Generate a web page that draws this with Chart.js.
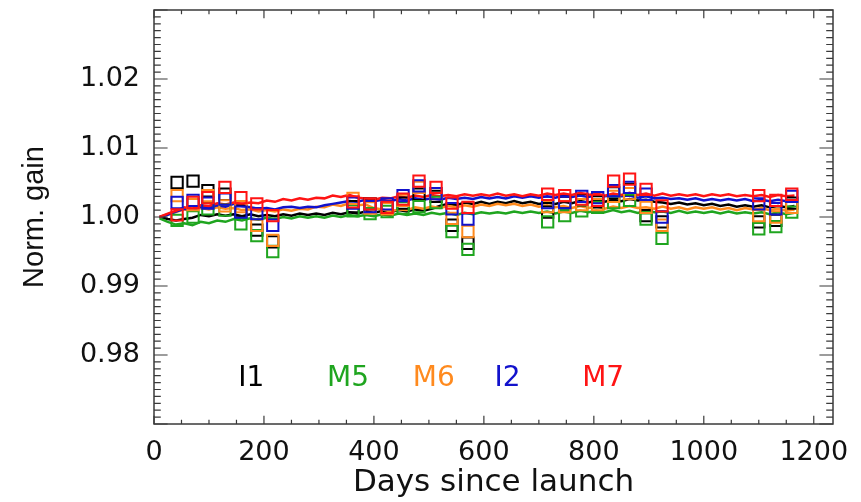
<!DOCTYPE html>
<html>
<head>
<meta charset="utf-8">
<script src="https://cdn.jsdelivr.net/npm/chart.js@4"></script>
<style>
  html, body { margin: 0; padding: 0; background: #ffffff; }
  #wrap { width: 861px; height: 502px; }
</style>
</head>
<body>
<div id="wrap"><canvas id="gain" width="861" height="502"></canvas></div>
<script>
// Band names and colours
const bands = ['I1', 'M5', 'M6', 'I2', 'M7'];
const bandColors = ['#000000', '#1fa51f', '#ff8a1e', '#1212cc', '#ff1414'];

// Trend sampling days (days since launch)
const trendDays = [10, 25, 40, 55, 70, 85, 100, 115, 130, 145,
  160, 175, 190, 205, 220, 235, 250, 265, 280, 295,
  310, 325, 340, 355, 370, 385, 400, 415, 430, 445,
  460, 475, 490, 505, 520, 535, 550, 565, 580, 595,
  610, 625, 640, 655, 670, 685, 700, 715, 730, 745,
  760, 775, 790, 805, 820, 835, 850, 865, 880, 895,
  910, 925, 940, 955, 970, 985, 1000, 1015, 1030, 1045,
  1060, 1075, 1090, 1105, 1120, 1135, 1150, 1165];

// Normalised gain trend per band
const trendI1 = [1.0000, 0.9997, 0.9995, 0.9997, 0.9999, 1.0003, 1.0001, 1.0004, 1.0002, 1.0004,
  1.0001, 1.0004, 1.0001, 1.0003, 1.0001, 1.0004, 1.0002, 1.0005, 1.0003, 1.0005,
  1.0003, 1.0006, 1.0004, 1.0007, 1.0005, 1.0008, 1.0006, 1.0009, 1.0007, 1.0010,
  1.0008, 1.0011, 1.0009, 1.0012, 1.0016, 1.0019, 1.0017, 1.0021, 1.0019, 1.0022,
  1.0019, 1.0022, 1.0020, 1.0023, 1.0020, 1.0022, 1.0019, 1.0021, 1.0019, 1.0022,
  1.0020, 1.0023, 1.0021, 1.0024, 1.0022, 1.0025, 1.0023, 1.0026, 1.0024, 1.0025,
  1.0022, 1.0021, 1.0019, 1.0021, 1.0018, 1.0020, 1.0017, 1.0019, 1.0016, 1.0018,
  1.0015, 1.0017, 1.0015, 1.0017, 1.0014, 1.0016, 1.0014, 1.0016];
const trendM5 = [0.9998, 0.9993, 0.9989, 0.9991, 0.9988, 0.9993, 0.9991, 0.9995, 0.9993, 0.9997,
  0.9995, 0.9998, 0.9996, 0.9999, 0.9997, 1.0000, 0.9998, 1.0001, 0.9999, 1.0001,
  0.9999, 1.0002, 1.0000, 1.0003, 1.0001, 1.0003, 1.0001, 1.0004, 1.0002, 1.0005,
  1.0003, 1.0005, 1.0003, 1.0006, 1.0004, 1.0006, 1.0003, 1.0006, 1.0004, 1.0007,
  1.0005, 1.0007, 1.0005, 1.0008, 1.0006, 1.0008, 1.0006, 1.0008, 1.0005, 1.0008,
  1.0006, 1.0009, 1.0007, 1.0009, 1.0007, 1.0010, 1.0007, 1.0009, 1.0006, 1.0009,
  1.0007, 1.0008, 1.0006, 1.0009, 1.0006, 1.0008, 1.0006, 1.0008, 1.0005, 1.0008,
  1.0005, 1.0007, 1.0005, 1.0007, 1.0004, 1.0007, 1.0004, 1.0006];
const trendM6 = [1.0000, 1.0004, 1.0007, 1.0011, 1.0009, 1.0013, 1.0011, 1.0014, 1.0012, 1.0013,
  1.0010, 1.0011, 1.0008, 1.0010, 1.0008, 1.0011, 1.0009, 1.0012, 1.0011, 1.0015,
  1.0014, 1.0018, 1.0016, 1.0020, 1.0017, 1.0018, 1.0013, 1.0011, 1.0008, 1.0011,
  1.0010, 1.0014, 1.0012, 1.0015, 1.0013, 1.0016, 1.0014, 1.0017, 1.0015, 1.0018,
  1.0016, 1.0019, 1.0017, 1.0019, 1.0016, 1.0018, 1.0015, 1.0017, 1.0014, 1.0016,
  1.0013, 1.0016, 1.0013, 1.0015, 1.0012, 1.0015, 1.0013, 1.0016, 1.0013, 1.0014,
  1.0012, 1.0015, 1.0012, 1.0014, 1.0011, 1.0014, 1.0012, 1.0014, 1.0011, 1.0013,
  1.0010, 1.0013, 1.0011, 1.0013, 1.0010, 1.0012, 1.0009, 1.0011];
const trendI2 = [1.0000, 1.0003, 1.0008, 1.0012, 1.0010, 1.0015, 1.0013, 1.0017, 1.0015, 1.0019,
  1.0016, 1.0014, 1.0012, 1.0013, 1.0011, 1.0014, 1.0015, 1.0013, 1.0015, 1.0014,
  1.0017, 1.0019, 1.0021, 1.0023, 1.0022, 1.0025, 1.0023, 1.0025, 1.0023, 1.0026,
  1.0024, 1.0027, 1.0025, 1.0027, 1.0025, 1.0028, 1.0026, 1.0028, 1.0026, 1.0029,
  1.0027, 1.0029, 1.0027, 1.0030, 1.0028, 1.0030, 1.0028, 1.0030, 1.0028, 1.0031,
  1.0029, 1.0031, 1.0029, 1.0032, 1.0030, 1.0032, 1.0030, 1.0031, 1.0028, 1.0030,
  1.0027, 1.0028, 1.0026, 1.0027, 1.0025, 1.0027, 1.0024, 1.0026, 1.0024, 1.0026,
  1.0024, 1.0026, 1.0023, 1.0025, 1.0023, 1.0025, 1.0023, 1.0024];
const trendM7 = [1.0000, 1.0005, 1.0009, 1.0014, 1.0012, 1.0017, 1.0016, 1.0020, 1.0018, 1.0021,
  1.0019, 1.0021, 1.0020, 1.0024, 1.0022, 1.0026, 1.0024, 1.0027, 1.0025, 1.0028,
  1.0027, 1.0031, 1.0029, 1.0032, 1.0028, 1.0027, 1.0025, 1.0028, 1.0027, 1.0030,
  1.0028, 1.0031, 1.0029, 1.0032, 1.0030, 1.0032, 1.0030, 1.0033, 1.0031, 1.0033,
  1.0031, 1.0034, 1.0031, 1.0033, 1.0030, 1.0033, 1.0031, 1.0034, 1.0032, 1.0034,
  1.0032, 1.0035, 1.0032, 1.0034, 1.0031, 1.0034, 1.0032, 1.0035, 1.0032, 1.0034,
  1.0031, 1.0034, 1.0031, 1.0033, 1.0031, 1.0033, 1.0030, 1.0033, 1.0031, 1.0033,
  1.0030, 1.0032, 1.0030, 1.0032, 1.0029, 1.0032, 1.0030, 1.0031];

// Lunar calibration days (days since launch)
const lunarDays = [42, 71, 98, 129, 158, 187, 216, 362, 393, 424, 453, 482, 513, 542, 571,
  716, 747, 778, 807, 836, 865, 895, 924, 1100, 1131, 1160];

// Normalised gain from each lunar calibration
const lunarI1 = [1.0050, 1.0052, 1.0038, 1.0033, 1.0008, 0.9981, 0.9964, 1.0015, 1.0019, 1.0012, 1.0020, 1.0033, 1.0030, 0.9988, 0.9962,
  1.0007, 1.0021, 1.0025, 1.0022, 1.0035, 1.0040, 1.0002, 0.9993, 0.9993, 0.9995, 1.0020];
const lunarM5 = [0.9995, 1.0000, 1.0012, 1.0010, 0.9990, 0.9973, 0.9950, 1.0009, 1.0005, 1.0008, 1.0013, 1.0015, 1.0021, 0.9979, 0.9953,
  0.9993, 1.0002, 1.0009, 1.0014, 1.0021, 1.0024, 0.9997, 0.9969, 0.9983, 0.9986, 1.0007];
const lunarM6 = [1.0031, 1.0018, 1.0031, 1.0016, 1.0015, 0.9988, 0.9966, 1.0027, 1.0013, 1.0012, 1.0024, 1.0043, 1.0034, 0.9998, 0.9979,
  1.0015, 1.0015, 1.0018, 1.0018, 1.0030, 1.0034, 1.0014, 0.9988, 1.0002, 1.0000, 1.0014];
const lunarI2 = [1.0021, 1.0024, 1.0020, 1.0026, 1.0007, 1.0005, 0.9988, 1.0020, 1.0015, 1.0019, 1.0031, 1.0045, 1.0034, 1.0012, 0.9997,
  1.0021, 1.0021, 1.0030, 1.0028, 1.0038, 1.0043, 1.0033, 1.0000, 1.0019, 1.0012, 1.0030];
const lunarM7 = [1.0003, 1.0021, 1.0028, 1.0043, 1.0028, 1.0019, 1.0002, 1.0022, 1.0019, 1.0014, 1.0026, 1.0052, 1.0043, 1.0020, 1.0014,
  1.0033, 1.0031, 1.0026, 1.0024, 1.0052, 1.0055, 1.0040, 1.0016, 1.0031, 1.0024, 1.0033];

// Axis ticks
const xTickValues = [0, 200, 400, 600, 800, 1000, 1200];
const yTickValues = [0.98, 0.99, 1.00, 1.01, 1.02];
const yTickLabels = ['0.98', '0.99', '1.00', '1.01', '1.02'];

const trends = [trendI1, trendM5, trendM6, trendI2, trendM7];
const lunars = [lunarI1, lunarM5, lunarM6, lunarI2, lunarM7];

// In-plot band labels: day position of each label and the gain level they sit on
const labelDays = [177, 353, 509, 643, 817];
const labelLevel = 0.97656;

const FONT = 'DejaVu Sans';
const AXIS_COLOR = '#3a3a3a';

const datasets = [];
bands.forEach((b, i) => {
  datasets.push({
    label: b + ' lunar',
    type: 'scatter',
    data: lunarDays.map((d, k) => ({ x: d, y: lunars[i][k] })),
    showLine: false,
    pointStyle: 'rect',
    pointRadius: 8,
    pointBorderWidth: 2,
    pointBorderColor: bandColors[i],
    pointBackgroundColor: 'rgba(0,0,0,0)',
    borderColor: bandColors[i],
    order: 4 - i
  });
});
bands.forEach((b, i) => {
  datasets.push({
    label: b,
    type: 'line',
    data: trendDays.map((d, k) => ({ x: d, y: trends[i][k] })),
    borderColor: bandColors[i],
    borderWidth: 2.5,
    pointRadius: 0,
    tension: 0,
    fill: false,
    order: 9 - i
  });
});

// Box frame with inward major/minor ticks on all four sides
const framePlugin = {
  id: 'frame',
  afterDraw(chart) {
    const { ctx, chartArea: a, scales: { x, y } } = chart;
    const w = a.right - a.left, h = a.bottom - a.top;
    const yMaj = 0.02 * w, yMin = yMaj / 2;
    const xMaj = 0.02 * h, xMin = xMaj / 2;
    ctx.save();
    ctx.strokeStyle = AXIS_COLOR;
    ctx.lineWidth = 1.5;
    ctx.strokeRect(a.left, a.top, w, h);
    ctx.lineWidth = 1.2;
    ctx.beginPath();
    for (let k = 0; k * 50 <= x.max; k++) {
      const px = x.getPixelForValue(k * 50);
      const len = (k % 4 === 0) ? xMaj : xMin;
      ctx.moveTo(px, a.bottom); ctx.lineTo(px, a.bottom - len);
      ctx.moveTo(px, a.top); ctx.lineTo(px, a.top + len);
    }
    for (let k = 0; k <= 60; k++) {
      const v = 0.97 + k * 0.001;
      const py = y.getPixelForValue(v);
      const len = (k % 10 === 0) ? yMaj : yMin;
      ctx.moveTo(a.left, py); ctx.lineTo(a.left + len, py);
      ctx.moveTo(a.right, py); ctx.lineTo(a.right - len, py);
    }
    ctx.stroke();
    ctx.restore();
  }
};

// Coloured band names inside the plot
const bandLabelPlugin = {
  id: 'bandLabels',
  afterDraw(chart) {
    const { ctx, scales: { x, y } } = chart;
    ctx.save();
    ctx.font = '28px "' + FONT + '"';
    ctx.textAlign = 'center';
    ctx.textBaseline = 'middle';
    bands.forEach((b, i) => {
      ctx.fillStyle = bandColors[i];
      ctx.fillText(b, x.getPixelForValue(labelDays[i]), y.getPixelForValue(labelLevel));
    });
    ctx.restore();
  }
};

new Chart(document.getElementById('gain'), {
  type: 'scatter',
  data: { datasets },
  options: {
    responsive: false,
    animation: false,
    layout: { padding: { top: 7, right: 28, left: 0, bottom: 0 } },
    plugins: { legend: { display: false }, tooltip: { enabled: false } },
    scales: {
      x: {
        type: 'linear',
        min: 0,
        max: 1235,
        afterFit(s) { s.height = 78; s.paddingLeft = 0; s.paddingRight = 0; },
        afterBuildTicks(s) { s.ticks = xTickValues.map(v => ({ value: v })); },
        grid: { display: false, drawTicks: false },
        border: { display: false },
        ticks: {
          padding: 13,
          autoSkip: false,
          maxRotation: 0,
          color: '#111111',
          font: { family: FONT, size: 27 },
          callback: (v) => String(v)
        },
        title: {
          display: true,
          text: 'Days since launch',
          color: '#111111',
          font: { family: FONT, size: 31 },
          padding: { top: 0, bottom: 0 }
        }
      },
      y: {
        type: 'linear',
        min: 0.97,
        max: 1.03,
        afterFit(s) { s.width = 154; s.paddingTop = 0; s.paddingBottom = 0; },
        afterBuildTicks(s) { s.ticks = yTickValues.map(v => ({ value: v })); },
        grid: { display: false, drawTicks: false },
        border: { display: false },
        ticks: {
          padding: 14,
          autoSkip: false,
          color: '#111111',
          font: { family: FONT, size: 27 },
          callback: (v, i) => yTickLabels[i]
        },
        title: {
          display: true,
          text: 'Norm. gain',
          color: '#111111',
          font: { family: 'Liberation Sans', size: 29 },
          padding: { top: 18, bottom: 0 }
        }
      }
    }
  },
  plugins: [framePlugin, bandLabelPlugin]
});
</script>
</body>
</html>
